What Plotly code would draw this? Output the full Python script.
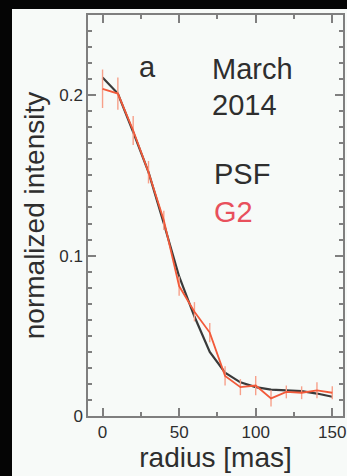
import plotly.graph_objects as go

# radial profiles, March 2014
radius = [0, 10, 20, 30, 40, 50, 60, 70, 80, 90, 100, 110, 120, 130, 140, 150]
psf = [0.211, 0.201, 0.177, 0.152, 0.120, 0.087, 0.062, 0.040, 0.027, 0.021,
       0.018, 0.0165, 0.016, 0.0155, 0.014, 0.012]
g2 = [0.204, 0.201, 0.178, 0.152, 0.122, 0.081, 0.065, 0.052, 0.025, 0.018,
      0.019, 0.011, 0.015, 0.0145, 0.016, 0.0145]
g2_err = [0.012, 0.010, 0.009, 0.007, 0.006, 0.006, 0.006, 0.006, 0.006, 0.005,
          0.006, 0.005, 0.004, 0.004, 0.005, 0.004]

x_ticks = [0, 50, 100, 150]
y_ticks = [0, 0.1, 0.2]

W, H = 347, 476
ML, MR, MT, MB = 88, 4, 15, 60
PW, PH = W - ML - MR, H - MT - MB

FONT = "Liberation Sans, Arial, Helvetica, sans-serif"
AX = "#7f7f7f"
TXT = "#2e2e2e"
BG = "#f7faf8"


def px(xp):
    return (xp - ML) / PW


def py(yp):
    return (H - MB - yp) / PH


fig = go.Figure()

fig.add_trace(go.Scatter(
    x=radius, y=psf, mode="lines",
    line=dict(color="#3a3a3a", width=2.2),
    showlegend=False,
))
fig.add_trace(go.Scatter(
    x=radius, y=g2, mode="lines",
    line=dict(color="#f25a3a", width=1.8),
    error_y=dict(type="data", array=g2_err, color="#f7a08a",
                 thickness=1.4, width=0),
    showlegend=False,
))

axis_common = dict(
    showline=True, linecolor=AX, linewidth=1.5, mirror="ticks",
    ticks="inside", tickcolor=AX, tickwidth=1.5, ticklen=8,
    showgrid=False, zeroline=False,
    tickfont=dict(family=FONT, size=17, color=TXT),
)

fig.update_xaxes(
    range=[-9.5, 157], tickmode="array", tickvals=x_ticks,
    minor=dict(tickmode="array", tickvals=[25, 75, 125], ticks="inside",
               ticklen=4, tickcolor=AX, tickwidth=1.5, showgrid=False),
    title=dict(text="radius [mas]", font=dict(family=FONT, size=28, color=TXT),
               standoff=0),
    **axis_common,
)
fig.update_yaxes(
    range=[0, 0.25], tickmode="array", tickvals=y_ticks,
    ticktext=["0", "0.1", "0.2"],
    minor=dict(tickmode="array", tickvals=[i / 100 for i in range(1, 25)],
               ticks="inside", ticklen=4, tickcolor=AX, tickwidth=1.5,
               showgrid=False),
    title=dict(text="normalized intensity",
               font=dict(family=FONT, size=28, color=TXT), standoff=6),
    **axis_common,
)

ann = dict(xref="paper", yref="paper", showarrow=False,
           xanchor="left", yanchor="middle")
fig.add_annotation(x=px(137), y=py(67), text="a",
                   font=dict(family=FONT, size=29, color=TXT), **ann)
fig.add_annotation(x=px(210), y=py(69), text="March",
                   font=dict(family=FONT, size=29, color=TXT), **ann)
fig.add_annotation(x=px(210), y=py(105), text="2014",
                   font=dict(family=FONT, size=29, color=TXT), **ann)
fig.add_annotation(x=px(212), y=py(174), text="PSF",
                   font=dict(family=FONT, size=29, color=TXT), **ann)
fig.add_annotation(x=px(212), y=py(212), text="G2",
                   font=dict(family=FONT, size=29, color="#e8505c"), **ann)

# dark surround on the left and top of the panel
fig.add_shape(type="rect", xref="paper", yref="paper",
              x0=px(-5), x1=px(12), y0=py(H + 5), y1=py(-5),
              fillcolor="#050505", line=dict(width=0), layer="above")
fig.add_shape(type="rect", xref="paper", yref="paper",
              x0=px(-5), x1=px(W + 5), y0=py(9), y1=py(-5),
              fillcolor="#050505", line=dict(width=0), layer="above")

fig.update_layout(
    template="none",
    width=W, height=H,
    margin=dict(l=ML, r=MR, t=MT, b=MB),
    paper_bgcolor=BG, plot_bgcolor=BG,
    font=dict(family=FONT, color=TXT),
)

fig.write_html("out.html")
